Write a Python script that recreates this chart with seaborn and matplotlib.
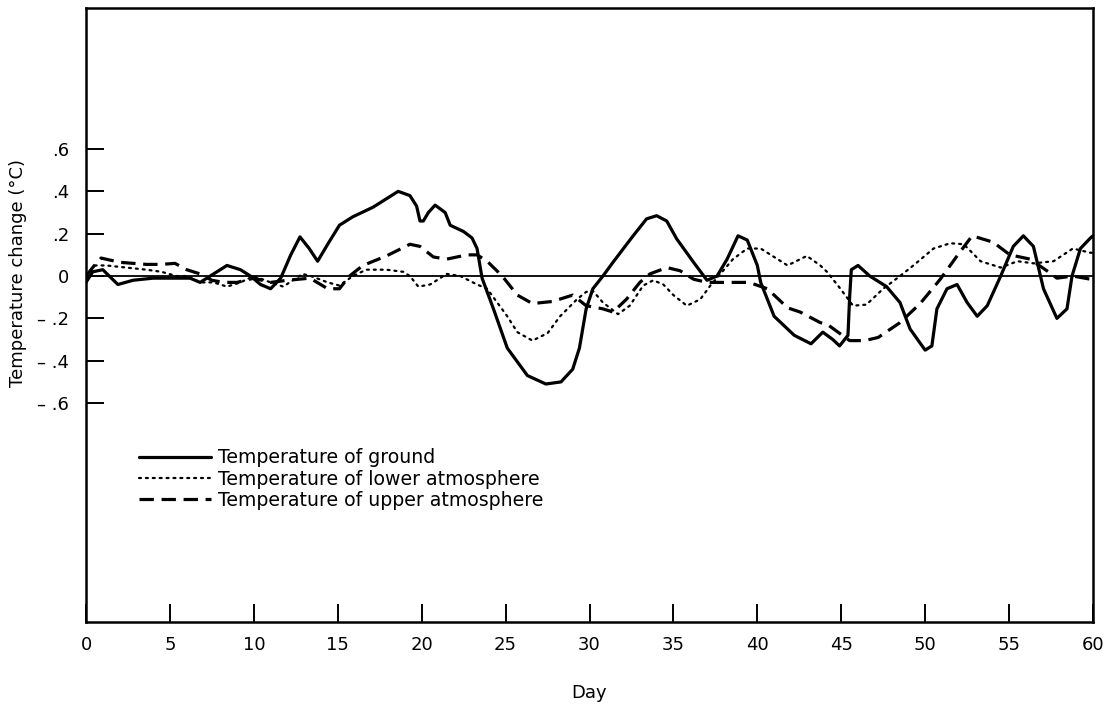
import matplotlib
matplotlib.use("Agg")
import matplotlib.pyplot as plt
import seaborn as sns
import pandas as pd

# ---------------- data ----------------
ground_days = [0, 0.4, 1.0, 1.9, 2.8, 4, 5, 6.2, 6.8, 7.6, 8.4, 9.2, 9.8, 10.4, 11.0,
               11.6, 12.2, 12.75, 13.3, 13.8, 14.4, 15.1, 15.9, 17.1, 18.0, 18.6, 19.3,
               19.7, 19.9, 20.1, 20.4, 20.8, 21.4, 21.7, 22.5, 23.0, 23.3, 23.6, 24.3,
               25.1, 26.3, 27.4, 28.3, 29.0, 29.4, 29.8, 30.2, 30.8, 31.4, 32.6, 33.4,
               34.0, 34.6, 35.2, 36.2, 37.0, 37.6, 38.2, 38.85, 39.4, 40.0, 40.2, 41.0,
               42.2, 43.2, 43.9, 44.5, 44.9, 45.4, 45.5, 45.6, 46.0, 46.7, 47.7, 48.5,
               49.1, 50.0, 50.4, 50.7, 51.3, 51.9, 52.5, 53.1, 53.7, 54.5, 55.25, 55.85,
               56.45, 57.05, 57.85, 58.45, 58.75, 59.25, 59.85, 60]
ground_vals = [-0.03, 0.02, 0.03, -0.04, -0.02, -0.01, -0.01, -0.01, -0.03, 0.01, 0.05,
               0.03, 0.0, -0.04, -0.06, -0.01, 0.10, 0.185, 0.13, 0.07, 0.15, 0.24, 0.28,
               0.325, 0.37, 0.40, 0.38, 0.33, 0.26, 0.26, 0.30, 0.335, 0.30, 0.24, 0.21,
               0.18, 0.13, -0.01, -0.16, -0.34, -0.47, -0.51, -0.50, -0.44, -0.34, -0.155,
               -0.06, 0.0, 0.065, 0.19, 0.27, 0.285, 0.26, 0.175, 0.065, -0.02, 0.0, 0.08,
               0.19, 0.17, 0.05, -0.03, -0.19, -0.28, -0.32, -0.265, -0.30, -0.33, -0.28,
               -0.10, 0.03, 0.05, 0.0, -0.05, -0.125, -0.25, -0.35, -0.33, -0.155, -0.06,
               -0.04, -0.125, -0.19, -0.14, 0.0, 0.14, 0.19, 0.14, -0.06, -0.20, -0.155,
               0.0, 0.13, 0.18, 0.19]

lower_days = [0, 0.5, 1.2, 2.4, 3.6, 4.5, 5.4, 6.0, 6.8, 7.6, 8.4, 9.2, 10.0, 11.0, 11.75,
              12.9, 13.4, 14.4, 15.1, 15.9, 16.7, 17.9, 18.9, 19.3, 19.8, 20.5, 21.5, 22.3,
              23.3, 23.9, 24.5, 25.1, 25.7, 26.6, 27.5, 28.25, 29.25, 29.8, 30.2, 30.8,
              31.7, 32.4, 33.2, 33.8, 34.4, 35.0, 35.8, 36.6, 37.2, 37.8, 38.55, 39.4,
              40.2, 41.0, 41.8, 42.95, 43.75, 44.15, 44.95, 45.7, 46.5, 47.5, 48.5, 49.3,
              50.5, 51.5, 52.3, 53.3, 54.5, 55.5, 56.45, 57.65, 58.8, 59.85, 60]
lower_vals = [0.0, 0.05, 0.05, 0.04, 0.03, 0.02, 0.0, 0.0, -0.03, -0.03, -0.05, -0.03, 0.0,
              -0.03, -0.05, 0.01, 0.0, -0.03, -0.045, 0.0, 0.03, 0.03, 0.02, 0.0, -0.05,
              -0.04, 0.01, 0.0, -0.04, -0.06, -0.125, -0.19, -0.265, -0.305, -0.27, -0.19,
              -0.11, -0.075, -0.07, -0.125, -0.18, -0.14, -0.045, -0.02, -0.04, -0.09,
              -0.14, -0.11, -0.045, 0.01, 0.08, 0.13, 0.13, 0.09, 0.05, 0.095, 0.05, 0.02,
              -0.06, -0.14, -0.135, -0.06, 0.0, 0.05, 0.13, 0.155, 0.15, 0.07, 0.04, 0.07,
              0.06, 0.07, 0.13, 0.11, 0.11]

upper_days = [0, 0.5, 0.9, 2.0, 3.6, 4.5, 5.3, 6.0, 6.8, 7.5, 8.2, 9.0, 10.0, 11.0, 12.0,
              13.35, 14.4, 15.1, 15.7, 16.5, 17.9, 19.3, 19.9, 20.7, 21.5, 22.7, 23.3, 23.9,
              24.8, 25.7, 26.6, 27.8, 29.0, 29.8, 30.8, 31.4, 32.2, 33.0, 33.6, 34.6, 35.4,
              36.2, 37.0, 38.0, 39.5, 40.6, 41.8, 42.55, 43.75, 44.2, 45.5, 46.4, 47.2,
              48.5, 49.7, 50.9, 51.9, 52.8, 54.05, 55.05, 56.25, 57.25, 57.85, 58.8, 59.85,
              60]
upper_vals = [0.0, 0.05, 0.085, 0.065, 0.055, 0.055, 0.06, 0.03, 0.01, -0.02, -0.03, -0.03,
              -0.01, -0.03, -0.02, -0.01, -0.06, -0.06, 0.0, 0.05, 0.095, 0.15, 0.14, 0.09,
              0.08, 0.10, 0.10, 0.07, 0.0, -0.09, -0.13, -0.12, -0.09, -0.14, -0.155, -0.17,
              -0.11, -0.03, 0.01, 0.04, 0.025, -0.015, -0.03, -0.03, -0.03, -0.06, -0.15,
              -0.17, -0.22, -0.23, -0.305, -0.305, -0.29, -0.22, -0.13, -0.015, 0.095, 0.19,
              0.16, 0.10, 0.08, 0.025, -0.01, 0.0, -0.015, -0.02]

series_labels = ["Temperature of ground",
                 "Temperature of lower atmosphere",
                 "Temperature of upper atmosphere"]
x_ticks = list(range(0, 61, 5))
y_ticks = [-0.6, -0.4, -0.2, 0, 0.2, 0.4, 0.6]
y_tick_labels = ["\u2013 .6", "\u2013 .4", "\u2013 .2", "0", ".2", ".4", ".6"]

# ---------------- figure ----------------
sns.set_style("white")
plt.rcParams["font.family"] = ["DejaVu Sans"]
plt.rcParams["text.color"] = "black"
plt.rcParams["axes.labelcolor"] = "black"
plt.rcParams["xtick.color"] = "black"
plt.rcParams["ytick.color"] = "black"

fig = plt.figure(figsize=(11.09, 7.09), dpi=100)
ax = fig.add_axes([86 / 1109, 1 - 622 / 709, (1093 - 86) / 1109, (622 - 8) / 709])

df_g = pd.DataFrame({"day": ground_days, "val": ground_vals})
df_l = pd.DataFrame({"day": lower_days, "val": lower_vals})
df_u = pd.DataFrame({"day": upper_days, "val": upper_vals})

ax.axhline(0, color="black", lw=1.3, zorder=1)
sns.lineplot(data=df_g, x="day", y="val", ax=ax, color="black", lw=2.3,
             solid_joinstyle="round", solid_capstyle="round",
             estimator=None, sort=False, label=series_labels[0])
sns.lineplot(data=df_l, x="day", y="val", ax=ax, color="black", lw=1.6,
             linestyle=(0, (0.9, 2.2)), dash_capstyle="round",
             estimator=None, sort=False, label=series_labels[1])
sns.lineplot(data=df_u, x="day", y="val", ax=ax, color="black", lw=2.3,
             linestyle=(0, (4.5, 2.4)),
             estimator=None, sort=False, label=series_labels[2])

ax.set_xlim(0, 60)
ax.set_ylim(-1.634, 1.266)
ax.set_xticks(x_ticks)
ax.set_xticklabels([str(t) for t in x_ticks], fontsize=13, color="black")
ax.set_yticks(y_ticks)
ax.set_yticklabels(y_tick_labels, fontsize=13, color="black")
ax.tick_params(axis="x", direction="in", length=13, width=1.4, color="black",
               pad=10, bottom=True, top=False)
ax.tick_params(axis="y", direction="in", length=13, width=1.4, color="black",
               pad=12, left=True, right=False)

for s in ax.spines.values():
    s.set_visible(True)
    s.set_color("black")
    s.set_linewidth(1.8)

ax.set_xlabel("Day", fontsize=13, labelpad=22, color="black")
ax.set_ylabel("Temperature change (\u00b0C)", fontsize=13, color="black")
ax.yaxis.set_label_coords(-0.059, 0.568)

leg = ax.legend(loc="upper left", bbox_to_anchor=(0.053, 0.283), frameon=False,
                fontsize=13.6, handlelength=3.8, handletextpad=0.35,
                labelspacing=0.12, borderaxespad=0, borderpad=0)
for t in leg.get_texts():
    t.set_color("black")

fig.savefig("out.png", dpi=100, facecolor="white")
